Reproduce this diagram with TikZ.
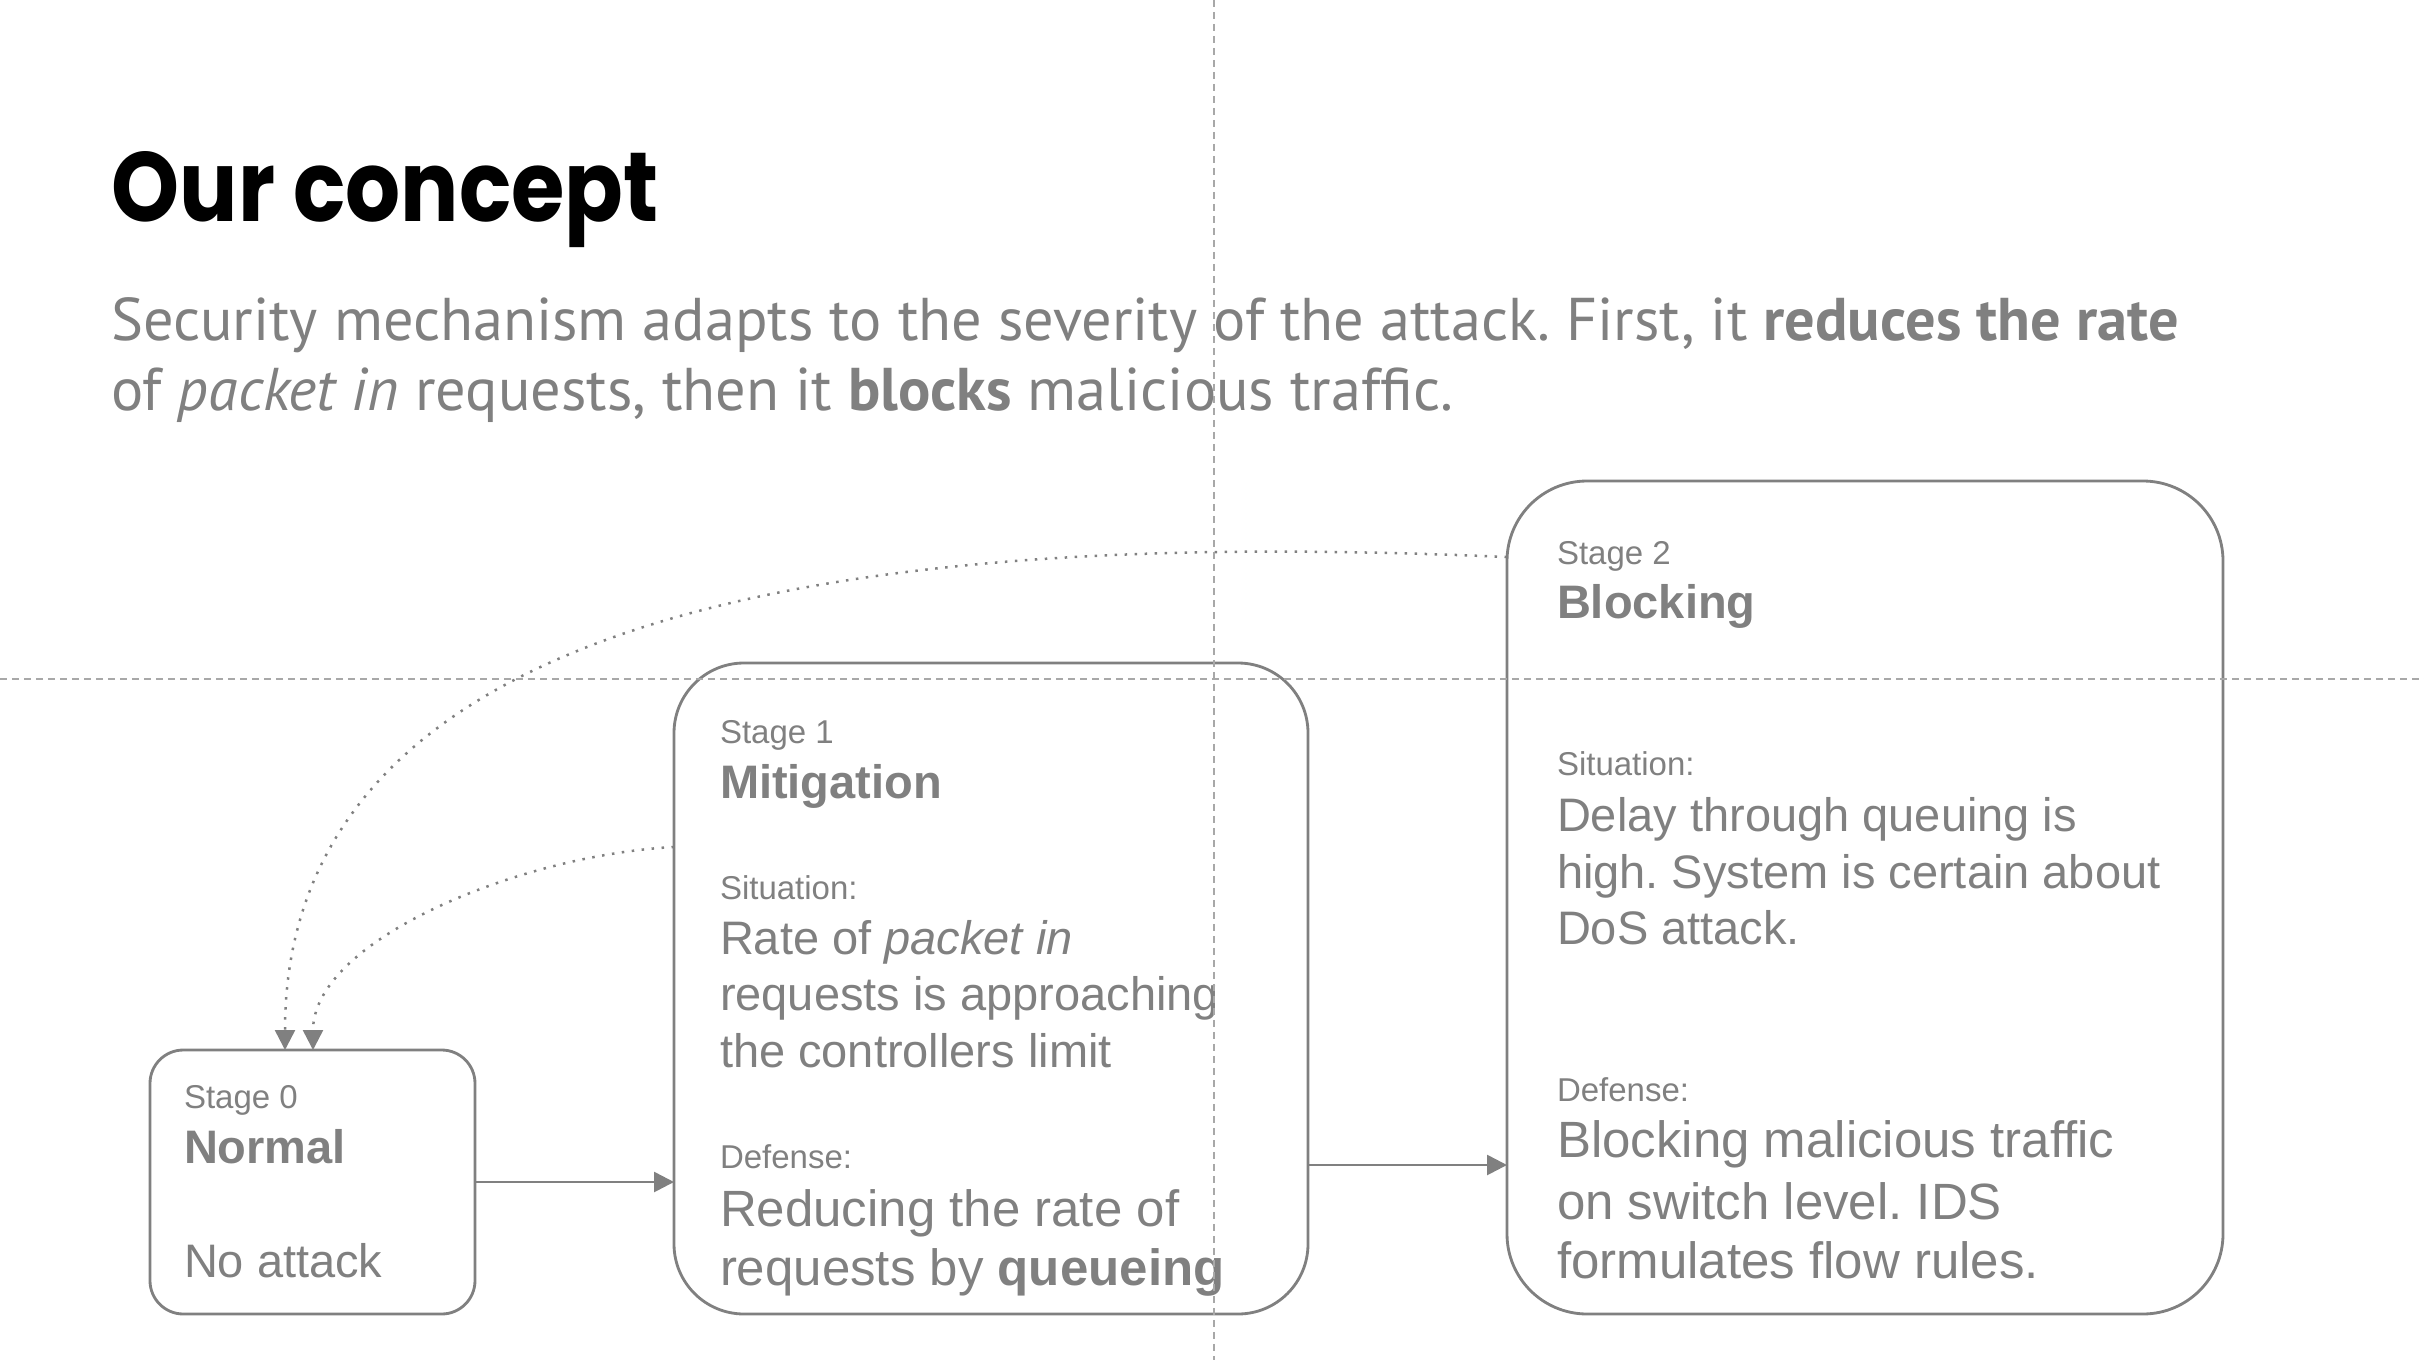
\documentclass[tikz,border=0pt]{standalone}
\usepackage{fontspec}
\setmainfont{Liberation Sans}[Ligatures=NoCommon]
\newfontfamily\titlefont{Poppins}
\newfontfamily\subfont{PT Sans}
\usetikzlibrary{arrows.meta}

\definecolor{ink}{HTML}{808080}
\definecolor{guide}{HTML}{A8A8A8}

\tikzset{
  stagebox/.style={draw=ink, line width=0.85pt, anchor=north west, inner sep=0pt, outer sep=0pt},
  txt/.style={anchor=base west, inner sep=0pt, outer sep=0pt, text=ink},
  small/.style={txt, font=\fontsize{9.9}{11}\selectfont},
  big/.style={txt, font=\fontsize{14.1}{16}\selectfont},
  bigger/.style={txt, font=\fontsize{15.3}{17}\selectfont},
  bigbold/.style={txt, font=\fontsize{14.1}{16}\selectfont\bfseries},
  conn/.style={draw=ink, line width=0.8pt, -{Triangle[length=6pt,width=6pt]}},
  back/.style={draw=ink, line width=0.75pt, dash pattern=on 0.75pt off 2.25pt, -{Triangle[length=6pt,width=6pt]}},
  guideline/.style={draw=guide, line width=0.55pt, dash pattern=on 2.2pt off 1.4pt},
}

\begin{document}
\frenchspacing
\begin{tikzpicture}[x=0.3pt,y=-0.3pt]
\useasboundingbox (0,0) rectangle (2424,1360);

% heading and lead text
\node[anchor=base west, inner sep=0pt, font=\titlefont\bfseries\fontsize{29.5}{36}\selectfont] (title) at (111,221) {\scalebox{0.88}[1]{Our concept}};
\node[txt, font=\subfont\fontsize{18.1}{21}\selectfont] (sub1) at (111,340) {Security mechanism adapts to the severity of the attack. First, it \textbf{reduces the rate}};
\node[txt, font=\subfont\fontsize{18.1}{21}\selectfont] (sub2) at (111,410) {of \textit{packet in} requests, then it \textbf{blocks} malicious traffic.};

% stage boxes
\node[stagebox, minimum width=97.5pt, minimum height=79.2pt, rounded corners=10pt] (s0) at (150,1050) {};
\node[stagebox, minimum width=190.2pt, minimum height=195.3pt, rounded corners=21pt] (s1) at (674,663) {};
\node[stagebox, minimum width=214.8pt, minimum height=249.9pt, rounded corners=24pt] (s2) at (1507,481) {};

% stage 0
\node[small] (s0lbl) at (184,1108) {Stage 0};
\node[bigbold] (s0name) at (184,1163) {Normal};
\node[big] (s0txt) at (184,1277) {No attack};

% stage 1
\node[small] (s1lbl) at (720,743) {Stage 1};
\node[bigbold] (s1name) at (720,798) {Mitigation};
\node[small] (s1sit) at (720,899) {Situation:};
\node[big] (s1sita) at (720,954) {Rate of \textit{packet in}};
\node[big] (s1sitb) at (720,1010) {requests is approaching};
\node[big] (s1sitc) at (720,1067) {the controllers limit};
\node[small] (s1def) at (720,1168) {Defense:};
\node[bigger] (s1defa) at (720,1226) {Reducing the rate of};
\node[bigger] (s1defb) at (720,1285) {requests by \textbf{queueing}};

% stage 2
\node[small] (s2lbl) at (1557,564) {Stage 2};
\node[bigbold] (s2name) at (1557,618) {Blocking};
\node[small] (s2sit) at (1557,775) {Situation:};
\node[big] (s2sita) at (1557,831) {Delay through queuing is};
\node[big] (s2sitb) at (1557,888) {high. System is certain about};
\node[big] (s2sitc) at (1557,944) {DoS attack.};
\node[small] (s2def) at (1557,1101) {Defense:};
\node[bigger] (s2defa) at (1557,1157) {Blocking malicious traffic};
\node[bigger] (s2defb) at (1557,1219) {on switch level. IDS};
\node[bigger] (s2defc) at (1557,1278) {formulates flow rules.};

% forward transitions
\coordinate (lvl12) at (0,1165);
\draw[conn] (s0.east) -- (s0.east -| s1.west);
\draw[conn] (s1.east |- lvl12) -- (s2.west |- lvl12);

% fall-back transitions
\coordinate (d2) at (0,557);
\coordinate (d1) at (0,847);
\coordinate (t2) at (285,0);
\coordinate (t1) at (313,0);
\draw[back] (s2.west |- d2) .. controls (1000,535) and (285,560) .. (s0.north -| t2);
\draw[back] (s1.west |- d1) .. controls (520,855) and (313,940) .. (s0.north -| t1);

% alignment guides
\coordinate (gtop) at (1214,0);
\coordinate (gbot) at (1214,1360);
\coordinate (gleft) at (0,679);
\coordinate (gright) at (2424,679);
\draw[guideline] (gtop) -- (gbot);
\draw[guideline] (gleft) -- (gright);
\end{tikzpicture}
\end{document}
